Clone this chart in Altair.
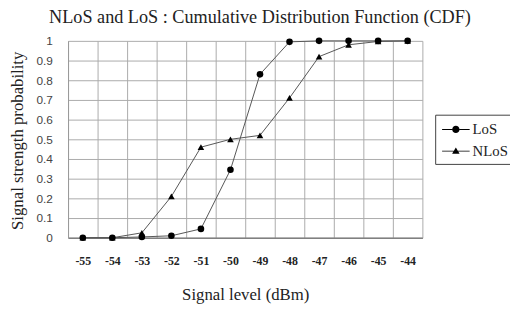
import altair as alt
import pandas as pd

signal = [-55, -54, -53, -52, -51, -50, -49, -48, -47, -46, -45, -44]
los = [0.0, 0.0, 0.004, 0.01, 0.045, 0.345, 0.83, 0.995, 1.0, 1.0, 1.0, 1.0]
nlos = [0.0, 0.0, 0.025, 0.21, 0.46, 0.5, 0.52, 0.71, 0.92, 0.98, 0.997, 1.0]
series = ["LoS", "NLoS"]
y_ticks = [0, 0.1, 0.2, 0.3, 0.4, 0.5, 0.6, 0.7, 0.8, 0.9, 1]

rows = []
for s, vals in zip(series, [los, nlos]):
    for x, v in zip(signal, vals):
        rows.append({"signal": x, "prob": v, "series": s, "mk": s + "_pt"})
df = pd.DataFrame(rows)

SERIF = "Liberation Serif"
SANS = "Liberation Sans"

x_enc = alt.X(
    "signal:O",
    scale=alt.Scale(type="band", paddingInner=0, paddingOuter=0),
    axis=alt.Axis(
        title="Signal level (dBm)",
        titleFont=SERIF, titleFontSize=17, titleFontWeight="normal", titleColor="#222",
        titleX=180, titleY=58, titleBaseline="middle",
        labelFont=SERIF, labelFontSize=12, labelFontWeight="bold", labelColor="#222",
        labelAngle=0, labelPadding=18,
        ticks=False, tickSize=0, tickBand="extent",
        grid=True, gridColor="#aaaaaa", gridWidth=1,
        domainColor="#808080", domainWidth=1.5,
    ),
)
y_enc = alt.Y(
    "prob:Q",
    scale=alt.Scale(domain=[0, 1], nice=False),
    axis=alt.Axis(
        title="Signal strength probability",
        titleFont=SERIF, titleFontSize=17, titleFontWeight="normal", titleColor="#222",
        titleX=-51, titleY=101, titleBaseline="middle", titleAngle=-90,
        labelFont=SANS, labelFontSize=12, labelColor="#444", labelPadding=16,
        values=y_ticks, format=".1~f",
        ticks=False, tickSize=0,
        grid=True, gridColor="#aaaaaa", gridWidth=1,
        domainColor="#999999",
    ),
)

# legend glyphs: filled line segments either side of the marker
leg_paths = [
    "M-1.4,-0.05L-0.37,-0.05L-0.37,0.05L-1.4,0.05Z"
    "M0.37,-0.05L1.4,-0.05L1.4,0.05L0.37,0.05Z"
    "M0.37,0A0.37,0.37 0 1,1 -0.37,0A0.37,0.37 0 1,1 0.37,0Z",
    "M-1.4,-0.05L-0.22,-0.05L-0.22,0.05L-1.4,0.05Z"
    "M0.22,-0.05L1.4,-0.05L1.4,0.05L0.22,0.05Z"
    "M-0.38,0.28L0,-0.36L0.38,0.28Z",
]
shape_scale = alt.Scale(
    domain=series + [s + "_pt" for s in series],
    range=leg_paths + ["circle", "triangle-up"],
)
legend = alt.Legend(
    title=None, orient="none", legendX=373, legendY=75, values=series,
    strokeColor="#404040", padding=5,
    labelFont=SERIF, labelFontSize=15, labelColor="#222",
    symbolSize=400, symbolOpacity=1, symbolStrokeWidth=0,
    symbolFillColor="black", symbolStrokeColor="#222",
    symbolOffset=6, labelOffset=7, rowPadding=4,
)

base = alt.Chart(df)

lines = base.mark_line(color="#555555", strokeWidth=1).encode(
    x=x_enc, y=y_enc, detail="series:N"
)

legend_layer = base.mark_point(filled=True, color="black", opacity=0, size=400).encode(
    x=x_enc, y=y_enc,
    shape=alt.Shape("series:N", scale=shape_scale, legend=legend),
)

points = base.mark_point(filled=True, color="black", opacity=1, size=45).encode(
    x=x_enc, y=y_enc,
    shape=alt.Shape("mk:N", scale=shape_scale, legend=legend),
)

chart = (
    alt.layer(lines, legend_layer, points)
    .properties(
        width=360, height=200,
        autosize=alt.AutoSizeParams(type="none"),
        padding={"left": 61, "top": 31, "right": 89, "bottom": 70},
        title=alt.TitleParams(
            "NLoS and LoS : Cumulative Distribution Function (CDF)",
            font=SERIF, fontSize=18.5, fontWeight="normal", color="#222",
            anchor="middle", dx=15, offset=9,
        ),
    )
    .configure_view(stroke=None)
)

chart.save("out.html", embed_options={"renderer": "svg", "actions": False})
